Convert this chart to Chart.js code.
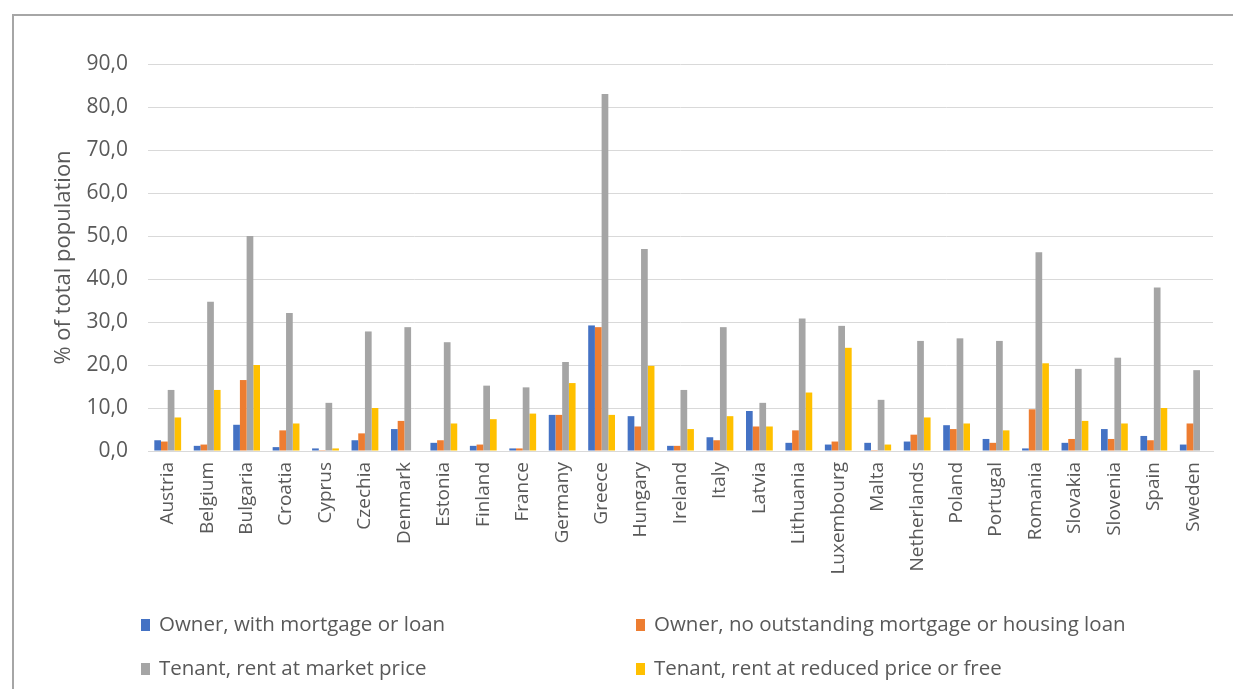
<!DOCTYPE html>
<html>
<head>
<meta charset="utf-8">
<script src="https://cdn.jsdelivr.net/npm/chart.js@4.4.1/dist/chart.umd.min.js"></script>
<style>
  html, body { margin:0; padding:0; background:#fff; }
  #wrap { position:relative; width:1233px; height:689px; overflow:hidden; }
  #frame { position:absolute; left:12px; top:14px; width:1240px; height:700px; border:2px solid #a6a6a6; box-sizing:border-box; }
  #chart { position:absolute; left:0; top:0; }
  .lg-item { position:absolute; font-family:"Open Sans", sans-serif; font-size:20.5px; color:#595959; white-space:nowrap; line-height:22px; }
  .lg-box { display:inline-block; width:9px; height:12px; margin-right:9px; vertical-align:0px; }
</style>
</head>
<body>
<div id="wrap">
  <div id="frame"></div>
  <canvas id="chart" width="1233" height="689"></canvas>
  <div id="legend"></div>
</div>
<script>
const countries = ['Austria','Belgium','Bulgaria','Croatia','Cyprus','Czechia','Denmark','Estonia','Finland','France',
  'Germany','Greece','Hungary','Ireland','Italy','Latvia','Lithuania','Luxembourg','Malta','Netherlands',
  'Poland','Portugal','Romania','Slovakia','Slovenia','Spain','Sweden'];

const ownerMortgage = [2.5,1.2,6.1,0.9,0.6,2.5,5.1,1.9,1.2,0.6,8.4,29.2,8.1,1.2,3.2,9.3,1.9,1.5,1.9,2.2,6.0,2.8,0.6,1.9,5.1,3.5,1.5];
const ownerNoLoan   = [2.2,1.5,16.5,4.8,0.2,4.1,7.0,2.5,1.5,0.6,8.4,28.8,5.7,1.2,2.5,5.7,4.8,2.2,0.2,3.8,5.1,1.9,9.7,2.8,2.8,2.5,6.4];
const tenantMarket  = [14.2,34.7,50.0,32.1,11.2,27.8,28.8,25.3,15.2,14.8,20.7,83.0,47.0,14.2,28.8,11.2,30.8,29.1,11.9,25.6,26.2,25.6,46.2,19.1,21.7,38.0,18.8];
const tenantReduced = [7.8,14.2,20.0,6.4,0.6,10.0,0,6.4,7.4,8.7,15.8,8.4,19.8,5.1,8.1,5.7,13.6,24.0,1.5,7.8,6.4,4.8,20.4,7.0,6.4,10.0,0];

const seriesNames  = ['Owner, with mortgage or loan','Owner, no outstanding mortgage or housing loan',
  'Tenant, rent at market price','Tenant, rent at reduced price or free'];
const seriesColors = ['#4472C4','#ED7D31','#A5A5A5','#FFC000'];
const seriesData   = [ownerMortgage, ownerNoLoan, tenantMarket, tenantReduced];

const yTicks = [0,10,20,30,40,50,60,70,80,90];

const txt = '#595959';
const font = 'Open Sans';

new Chart(document.getElementById('chart'), {
  type: 'bar',
  data: {
    labels: countries,
    datasets: seriesData.map((d,i) => ({
      label: seriesNames[i], data: d, backgroundColor: seriesColors[i],
      borderWidth: 0, categoryPercentage: 0.68, barPercentage: 1
    }))
  },
  options: {
    responsive: false, animation: false,
    layout: { padding: { left: 50, right: 20, top: 64, bottom: 98 } },
    plugins: { legend: { display: false }, tooltip: { enabled: false } },
    scales: {
      x: {
        grid: { display: false, drawTicks: false },
        border: { display: true, color: '#d9d9d9', width: 1 },
        ticks: { color: txt, font: { family: font, size: 19 }, minRotation: 90, maxRotation: 90, padding: 11, autoSkip: false },
        afterFit: s => { s.height = 140; }
      },
      y: {
        min: 0, max: 90,
        afterBuildTicks: s => { s.ticks = yTicks.map(v => ({ value: v })); },
        grid: { color: '#d9d9d9', lineWidth: 1, drawTicks: false },
        border: { display: false },
        ticks: { color: txt, font: { family: font, size: 21 }, padding: 20, callback: v => v.toFixed(1).replace('.', ',') },
        title: { display: true, text: '% of total population', color: txt, font: { family: font, size: 22 }, padding: { top: 1, bottom: 0 } },
        afterFit: s => { s.width = 98; }
      }
    }
  }
});

// legend, two columns like the original
const legendPos = [[141,612],[636,612],[141,656],[636,656]];
const legend = document.getElementById('legend');
seriesNames.forEach((n,i) => {
  const d = document.createElement('div'); d.className = 'lg-item';
  d.style.left = legendPos[i][0]+'px'; d.style.top = legendPos[i][1]+'px';
  d.innerHTML = '<span class="lg-box" style="background:'+seriesColors[i]+'"></span>'+n;
  legend.appendChild(d);
});
</script>
</body>
</html>
